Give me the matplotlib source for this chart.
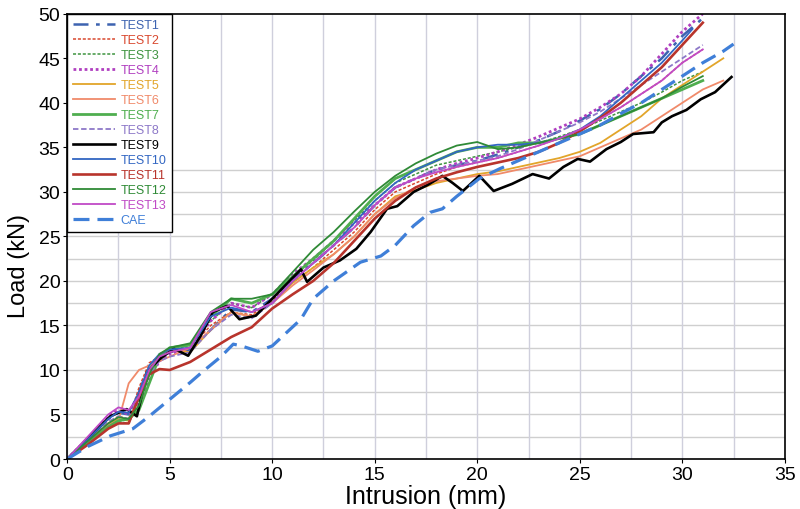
import numpy as np
import matplotlib
matplotlib.use("Agg")
import matplotlib.pyplot as plt
from matplotlib.ticker import MultipleLocator

plt.rcParams['font.family'] = ['Liberation Sans', 'DejaVu Sans']

# ---------------- data ----------------
x_std = [0, 1, 2, 2.5, 3, 3.5, 4, 4.5, 5, 6, 7, 8, 9, 10, 11, 12, 13, 14, 15, 16,
         17, 18, 19, 20, 21, 22, 23, 24, 25, 26, 27, 28, 29, 30, 31]

test1_y = [0, 2.2, 4.5, 5.2, 5.0, 7.5, 10.5, 11.5, 12.0, 12.3, 14.5, 16.8, 16.5, 18.0, 20.3, 22.0,
           24.0, 26.0, 28.5, 30.5, 31.5, 32.5, 33.0, 33.5, 34.2, 35.0, 35.8, 36.8, 38.0, 39.3,
           41.0, 43.0, 45.0, 47.5, 49.5]
test2_y = [0, 2.0, 4.0, 4.8, 4.5, 8.0, 10.8, 11.5, 12.0, 12.5, 15.0, 16.5, 16.2, 17.8, 19.8, 21.5,
           23.5, 25.5, 28.0, 30.0, 31.0, 32.0, 32.8, 33.3, 33.8, 34.5, 35.2, 36.0, 37.0, 38.2,
           39.5, 41.0, 42.5, 44.5, 46.0]
test3_y = [0, 1.8, 3.6, 4.2, 4.0, 6.5, 9.5, 11.5, 12.2, 12.8, 15.5, 17.5, 17.0, 18.5, 20.5, 22.3,
           24.5, 26.8, 29.0, 31.0, 32.0, 33.0, 33.5, 34.0, 34.5, 35.0, 35.5, 36.2, 37.0, 38.0,
           39.0, 40.0, 41.2, 42.5, 43.5]
test4_y = [0, 2.3, 4.8, 5.5, 5.0, 6.5, 9.0, 11.0, 11.8, 12.5, 15.5, 17.5, 17.0, 18.5, 20.8, 22.5,
           24.5, 26.5, 28.5, 30.5, 31.5, 32.5, 33.2, 33.8, 34.5, 35.3, 36.2, 37.2, 38.2, 39.5,
           41.0, 43.0, 45.5, 48.0, 50.0]
test8_y = [0, 2.0, 4.2, 4.8, 4.5, 7.0, 9.5, 11.0, 11.5, 12.0, 14.5, 16.2, 15.8, 17.5, 20.0, 22.0,
           24.0, 26.0, 28.5, 30.5, 31.5, 32.5, 33.0, 33.5, 34.0, 34.8, 35.8, 36.8, 37.8, 39.0,
           40.5, 42.0, 43.5, 45.0, 46.5]
test13_y = [0, 2.5, 5.0, 5.8, 5.5, 7.0, 10.0, 11.5, 12.0, 12.5, 16.5, 17.3, 16.5, 17.5, 20.0, 22.0,
            24.0, 26.0, 28.5, 30.5, 31.5, 32.2, 32.8, 33.3, 33.8, 34.5, 35.2, 36.0, 37.0, 38.2,
            39.5, 41.0, 42.5, 44.5, 46.0]
test7_y = [0, 1.8, 3.6, 4.3, 4.5, 5.5, 8.5, 11.5, 12.5, 12.8, 16.0, 18.0, 17.5, 18.5, 20.5, 22.5,
           24.5, 27.0, 29.5, 31.5, 32.5, 33.5, 34.5, 35.0, 35.0, 35.5, 35.5, 36.0, 36.5, 37.5,
           38.5, 39.5, 40.5, 41.5, 42.5]
test12_y = [0, 2.0, 4.0, 4.7, 4.5, 6.0, 9.5, 11.8, 12.5, 13.0, 16.5, 18.0, 18.0, 18.5, 21.0, 23.5,
            25.5, 27.8, 30.0, 31.8, 33.2, 34.3, 35.2, 35.6, 34.8, 35.0, 35.5, 36.0, 36.5, 37.5,
            38.5, 39.5, 40.5, 41.8, 43.0]
test11_y = [0, 1.6, 3.4, 4.0, 4.0, 7.0, 9.5, 10.1, 10.0, 10.9, 12.3, 13.7, 14.8, 16.9, 18.5, 20.0,
            22.0, 24.5, 27.0, 29.0, 30.5, 31.5, 32.2, 32.8, 33.3, 33.8, 34.5, 35.5, 36.8, 38.3,
            40.0, 42.0, 44.0, 46.5, 49.0]

x_long = [0, 1, 2, 2.5, 3, 3.5, 4, 4.5, 5, 6, 7, 8, 9, 10, 11, 12, 13, 14, 15, 16,
          17, 18, 19, 20, 21, 22, 23, 24, 25, 26, 27, 28, 29, 30, 31, 32]
test5_y = [0, 1.9, 3.8, 4.5, 4.3, 7.0, 10.0, 11.5, 12.2, 12.0, 14.5, 16.5, 16.0, 17.5, 19.8, 21.5,
           23.0, 25.0, 27.5, 29.5, 30.2, 31.0, 31.5, 32.0, 32.3, 32.8, 33.3, 33.8, 34.5, 35.5,
           37.0, 38.5, 40.5, 42.0, 43.5, 45.0]
test6_y = [0, 1.9, 3.8, 4.3, 8.5, 10.0, 10.5, 11.0, 11.5, 12.5, 14.5, 16.5, 16.0, 17.5, 19.5, 21.2,
           23.0, 25.0, 27.5, 29.3, 30.5, 31.2, 31.5, 31.8, 32.0, 32.5, 33.0, 33.5, 34.0, 35.0,
           36.0, 37.0, 38.5, 40.0, 41.5, 42.5]

x_t10 = [0, 1, 2, 2.5, 3, 3.5, 4, 4.5, 5, 6, 7, 8, 9, 10, 11, 12, 13, 14, 15, 16,
         17, 18, 19, 20, 21, 22, 23, 24, 25, 26, 27, 28, 29, 30, 30.5]
test10_y = [0, 2.2, 4.5, 5.3, 5.2, 7.5, 10.5, 11.8, 12.3, 12.5, 16.0, 17.0, 16.5, 17.5, 20.0, 22.0,
            24.0, 26.5, 29.0, 31.0, 32.5, 33.5, 34.5, 35.0, 35.3, 35.3, 35.5, 36.0, 37.0, 38.5,
            40.5, 42.5, 44.5, 47.0, 48.3]

x_t9 = [0, 1, 2.1, 2.9, 3.4, 3.9, 4.5, 5.2, 5.9, 6.5, 7.1, 7.8, 8.4, 9.2, 10.0, 11.4, 11.7,
        12.5, 13.3, 14.1, 14.8, 15.6, 16.1, 16.9, 17.6, 18.3, 18.8, 19.3, 20.1, 20.8, 21.7,
        22.7, 23.5, 24.2, 24.9, 25.5, 26.3, 27.0, 27.6, 28.6, 29.0, 29.5, 30.2, 30.9, 31.6, 32.4]
test9_y = [0, 2.3, 4.8, 5.6, 4.8, 9.8, 11.2, 12.4, 11.6, 13.8, 16.5, 17.2, 15.7, 16.1, 18.0, 21.3,
           19.9, 21.5, 22.3, 23.6, 25.5, 28.1, 28.4, 30.0, 30.8, 31.8, 31.0, 30.1, 31.8, 30.1,
           30.9, 32.0, 31.5, 32.8, 33.7, 33.4, 34.8, 35.6, 36.5, 36.7, 37.8, 38.5, 39.2, 40.4,
           41.2, 42.9]

x_cae = [0, 1, 2.1, 3.2, 4, 5, 6, 6.6, 7.5, 8.1, 8.5, 9.3, 10, 11.4, 12, 13, 14.3, 15.3, 16,
         16.9, 17.7, 18.3, 19, 20.1, 21.1, 22, 23, 24, 25, 26, 27, 28, 29, 30, 31, 32, 32.5]
cae_y = [0, 1.4, 2.6, 3.4, 4.8, 6.7, 8.6, 9.8, 11.5, 12.9, 12.7, 12.1, 12.7, 15.7, 18.0, 20.0,
         22.1, 22.8, 24.0, 26.2, 27.7, 28.1, 29.5, 31.5, 32.6, 33.5, 34.5, 35.5, 36.5, 37.5,
         38.8, 40.0, 41.5, 43.0, 44.5, 45.8, 46.6]

x_ticks = [0, 5, 10, 15, 20, 25, 30, 35]
y_ticks = [0, 5, 10, 15, 20, 25, 30, 35, 40, 45, 50]

series = [
    ("TEST1", x_std, test1_y, dict(color="#3d63b0", ls=(0, (6, 3, 1.5, 3)), lw=1.8)),
    ("TEST2", x_std, test2_y, dict(color="#d9482e", ls=(0, (2, 1.2)), lw=1.1)),
    ("TEST3", x_std, test3_y, dict(color="#3f9440", ls=(0, (2, 1.2)), lw=1.1)),
    ("TEST4", x_std, test4_y, dict(color="#b03fc0", ls=(0, (1, 1)), lw=2.0)),
    ("TEST5", x_long, test5_y, dict(color="#e2a52a", ls="-", lw=1.3)),
    ("TEST6", x_long, test6_y, dict(color="#f08a6a", ls="-", lw=1.3)),
    ("TEST7", x_std, test7_y, dict(color="#4fae4f", ls="-", lw=2.0)),
    ("TEST8", x_std, test8_y, dict(color="#8d78c8", ls=(0, (3, 1.5)), lw=1.3)),
    ("TEST9", x_t9, test9_y, dict(color="#000000", ls="-", lw=1.9)),
    ("TEST10", x_t10, test10_y, dict(color="#3266c2", ls="-", lw=1.3)),
    ("TEST11", x_std, test11_y, dict(color="#b8342c", ls="-", lw=1.9)),
    ("TEST12", x_std, test12_y, dict(color="#2f8a36", ls="-", lw=1.3)),
    ("TEST13", x_std, test13_y, dict(color="#c04ac6", ls="-", lw=1.3)),
    ("CAE", x_cae, cae_y, dict(color="#3f7fd8", ls=(0, (5, 2.5)), lw=2.3)),
]

# ---------------- figure ----------------
fig = plt.figure(figsize=(8, 5.1), dpi=100)
ax = fig.add_axes([0.084, 0.098, 0.897, 0.873])

ax.set_xlim(0, 35)
ax.set_ylim(0, 50)
ax.set_xticks(x_ticks)
ax.set_yticks(y_ticks)
ax.xaxis.set_minor_locator(MultipleLocator(2.5))

# vertical grid (full height), horizontal grid only in the lower part
ax.grid(True, which='both', axis='x', color='#cfcfdc', lw=1.0)
ax.hlines(np.arange(2.5, 33, 2.5), 0, 35, colors='#cfcfcf', lw=1.0, zorder=0.5)
ax.set_axisbelow(True)

for name, xs, ys, st in series:
    ax.plot(xs, ys, label=name, **st)

for s in ax.spines.values():
    s.set_color('black')
    s.set_linewidth(1.2)

ax.tick_params(axis='both', which='major', labelsize=14, length=3, direction='out', pad=2)
ax.tick_params(axis='x', which='minor', length=0)

ax.set_xlabel("Intrusion (mm)", fontsize=18)
ax.xaxis.set_label_coords(0.5, -0.056)
ax.set_ylabel("Load (kN)", fontsize=17)
ax.yaxis.set_label_coords(-0.052, 0.436)

leg = ax.legend(loc='upper left', fontsize=9, handlelength=3.4, handletextpad=0.4,
                labelspacing=0.24, borderpad=0.45, borderaxespad=0.0,
                frameon=True, fancybox=False, framealpha=1.0, labelcolor='linecolor')
leg.get_frame().set_edgecolor('black')
leg.get_frame().set_linewidth(1.0)

fig.savefig("out.png", dpi=100)
